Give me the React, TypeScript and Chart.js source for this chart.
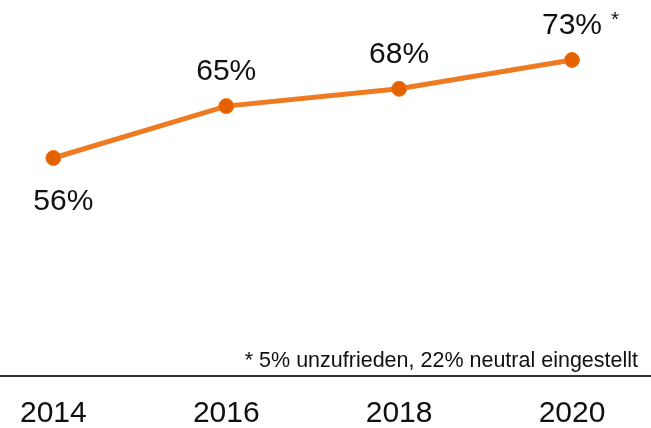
import React, { useEffect, useRef } from "react";
import { Chart, registerables } from "chart.js";

Chart.register(...registerables);

const years = ["2014", "2016", "2018", "2020"];
const satisfied = [56, 65, 68, 73];
const markers = ["", "", "", "*"];
const footnote = "* 5% unzufrieden, 22% neutral eingestellt";

const FONT = "'Liberation Sans', Arial, Helvetica, sans-serif";
const TEXT = "#111111";

const labelPlugin = {
  id: "valueLabels",
  afterDatasetsDraw(chart: any) {
    const ctx = chart.ctx;
    const meta = chart.getDatasetMeta(0);
    ctx.save();
    ctx.fillStyle = TEXT;
    meta.data.forEach((pt: any, i: number) => {
      const txt = `${satisfied[i]}%`;
      ctx.font = `30px ${FONT}`;
      ctx.textAlign = "center";
      ctx.textBaseline = "alphabetic";
      let x = pt.x;
      let y = pt.y - 26;
      if (i === 0) {
        x = pt.x + 10;
        y = pt.y + 52;
      }
      ctx.fillText(txt, x, y);
      if (markers[i]) {
        const w = ctx.measureText(txt).width;
        ctx.font = `21px ${FONT}`;
        ctx.textAlign = "left";
        ctx.fillText(markers[i], x + w / 2 + 9, y - 8);
      }
    });
    // footnote
    const area = chart.chartArea;
    ctx.font = `21.5px ${FONT}`;
    ctx.textAlign = "right";
    ctx.textBaseline = "alphabetic";
    ctx.fillText(footnote, area.right - 13, area.bottom - 9);
    ctx.restore();
  },
};

export default function App() {
  const ref = useRef<HTMLCanvasElement | null>(null);

  useEffect(() => {
    if (!ref.current) return;
    const chart = new Chart(ref.current, {
      type: "line",
      data: {
        datasets: [
          {
            data: satisfied.map((v, i) => ({ x: i, y: v })),
            borderColor: "#EE7A22",
            borderWidth: 5,
            pointBackgroundColor: "#E56100",
            pointBorderColor: "#EE7A22",
            pointBorderWidth: 1,
            pointRadius: 7.5,
            tension: 0,
            fill: false,
            clip: false as any,
          },
        ],
      },
      options: {
        animation: false,
        responsive: false,
        maintainAspectRatio: false,
        layout: { padding: 0, autoPadding: false },
        plugins: {
          legend: { display: false },
          tooltip: { enabled: false },
          title: { display: false },
        },
        scales: {
          x: {
            type: "linear",
            min: -0.306,
            max: 3.457,
            grid: { display: false, drawTicks: false },
            border: { display: true, color: "#333333", width: 2 },
            afterBuildTicks: (scale: any) => {
              scale.ticks = years.map((_, i) => ({ value: i }));
            },
            afterFit: (scale: any) => {
              scale.height = 52;
            },
            ticks: {
              autoSkip: false,
              maxRotation: 0,
              padding: 20,
              color: TEXT,
              font: { family: FONT, size: 30 },
              callback: (v: any) => years[Math.round(Number(v))] ?? "",
            },
          },
          y: {
            display: false,
            min: 18.2,
            max: 83.4,
          },
        },
      },
      plugins: [labelPlugin],
    });
    return () => chart.destroy();
  }, []);

  return (
    <div style={{ position: "absolute", left: 0, top: 0, width: 651, height: 428, background: "#fff" }}>
      <canvas ref={ref} width={651} height={428} />
    </div>
  );
}
